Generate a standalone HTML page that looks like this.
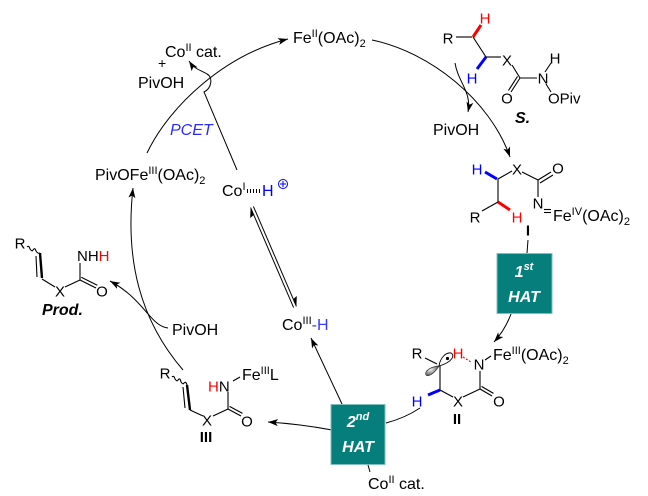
<!DOCTYPE html>
<html><head><meta charset="utf-8">
<style>
html,body{margin:0;padding:0;background:#fff;}
svg{display:block;}
text{font-family:"Liberation Sans",Arial,sans-serif;}
</style></head><body>
<svg width="648" height="496" viewBox="0 0 648 496" xmlns="http://www.w3.org/2000/svg">
<defs>
<marker id="ah" markerWidth="10" markerHeight="8" refX="10" refY="4" orient="auto" markerUnits="userSpaceOnUse">
<path d="M0,0.5 L10,4 L0,7.5 L2.5,4 z" fill="#000"/>
</marker>
<radialGradient id="lobe" cx="0.35" cy="0.35" r="0.75"><stop offset="0" stop-color="#f2f2f2"/><stop offset="1" stop-color="#4a4a4a"/></radialGradient>
</defs>

<!-- arrows -->
<g fill="none" stroke="#000" stroke-width="1">
<path d="M147,153 C170,105 225,55 288,39" marker-end="url(#ah)"/>
<path d="M372,40 C430,52 490,100 510,157" marker-end="url(#ah)"/>
<path d="M455,63 C458,82 472,92 468,112" marker-end="url(#ah)"/>
<line x1="528" y1="240" x2="527" y2="253"/>
<path d="M511,314 Q505,330 494,342" marker-end="url(#ah)"/>
<path d="M420,408 Q405,418 386,423"/>
<line x1="342" y1="404" x2="311" y2="338" marker-end="url(#ah)"/>
<path d="M332,430 Q300,424 268,422" marker-end="url(#ah)"/>
<line x1="368" y1="465" x2="370" y2="472"/>
<path d="M183,370 C140,320 125,260 133,188" marker-end="url(#ah)"/>
<path d="M168,328 C150,326 145,300 110,281" marker-end="url(#ah)"/>
<path d="M237,170 L204,92 C212,88 213,77 207,74 C201,70 195,70 189,61" marker-end="url(#ah)"/>
<!-- equilibrium -->
<line x1="250.6" y1="207.6" x2="293.6" y2="307.6"/>
<line x1="253.4" y1="206.4" x2="296.4" y2="306.4"/>
</g>
<polygon points="250.6,207.6 250.2,218 253.6,215" fill="#000"/>
<polygon points="296.4,306.4 296.8,296 293.4,299" fill="#000"/>

<!-- boxes -->
<rect x="497" y="253.5" width="55" height="60" fill="#067f7c" stroke="#7fbfbd" stroke-width="1"/>
<rect x="331" y="404.5" width="54" height="60" fill="#067f7c" stroke="#7fbfbd" stroke-width="1"/>
<g fill="#fff" font-weight="bold" font-style="italic" font-size="16" text-anchor="middle">
<text x="524" y="277">1<tspan dy="-7" font-size="11">st</tspan></text>
<text x="524" y="302">HAT</text>
<text x="358" y="427">2<tspan dy="-7" font-size="11">nd</tspan></text>
<text x="358" y="452">HAT</text>
</g>

<!-- labels -->
<g font-size="16" fill="#000">
<text x="293" y="43">Fe<tspan dy="-6" font-size="11">II</tspan><tspan dy="6">(OAc)</tspan><tspan dy="4" font-size="11">2</tspan></text>
<text x="165" y="57">Co<tspan dy="-6" font-size="11">II</tspan><tspan dy="6">&#160;cat.</tspan></text>
<text x="158" y="68" font-size="14">+</text>
<text x="138" y="88">PivOH</text>
<text x="170" y="135" font-style="italic" fill="#2b2bff">PCET</text>
<text x="95" y="180">PivOFe<tspan dy="-6" font-size="11">III</tspan><tspan dy="6">(OAc)</tspan><tspan dy="4" font-size="11">2</tspan></text>
<text x="222" y="196">Co<tspan dy="-6" font-size="11">I</tspan></text>
<text x="262" y="196" fill="#0000ff">H</text>
<text x="282" y="330">Co<tspan dy="-6" font-size="11">III</tspan><tspan dy="6" fill="#3a3aff">-H</tspan></text>
<text x="172" y="335">PivOH</text>
<text x="433" y="135">PivOH</text>
<text x="368" y="489">Co<tspan dy="-6" font-size="11">II</tspan><tspan dy="6">&#160;cat.</tspan></text>
<text x="515" y="123" font-weight="bold" font-style="italic">S.</text>
<text x="42" y="315" font-weight="bold" font-style="italic">Prod.</text>
<text x="553" y="221">Fe<tspan dy="-6" font-size="11">IV</tspan><tspan dy="6">(OAc)</tspan><tspan dy="4" font-size="11">2</tspan></text>
<text x="493" y="360">Fe<tspan dy="-6" font-size="11">III</tspan><tspan dy="6">(OAc)</tspan><tspan dy="4" font-size="11">2</tspan></text>
<text x="242" y="380">Fe<tspan dy="-6" font-size="11">III</tspan><tspan dy="6">L</tspan></text>
</g>
<line x1="247" y1="191" x2="261" y2="191" stroke="#000" stroke-width="4" stroke-dasharray="1 2"/>
<circle cx="283" cy="184" r="4.5" fill="none" stroke="#0000ff" stroke-width="1"/>
<line x1="280" y1="184" x2="286" y2="184" stroke="#0000ff" stroke-width="1"/>
<line x1="283" y1="181" x2="283" y2="187" stroke="#0000ff" stroke-width="1"/>

<!-- bonds -->
<g stroke="#000" stroke-width="1.1" fill="none">
<!-- S -->
<line x1="456" y1="37" x2="472" y2="37"/>
<line x1="473" y1="37" x2="486" y2="57"/>
<line x1="486" y1="57" x2="501" y2="57"/>
<line x1="512" y1="65" x2="520" y2="78"/>
<line x1="520" y1="78" x2="537" y2="78"/>
<line x1="545" y1="72" x2="551" y2="63"/>
<line x1="520" y1="78" x2="511" y2="92"/>
<line x1="517.5" y1="76.4" x2="508.5" y2="90.4"/>
<line x1="546" y1="84" x2="551" y2="92"/>
<!-- I -->
<line x1="498" y1="179" x2="512" y2="171"/>
<line x1="498" y1="179" x2="498" y2="202"/>
<line x1="498" y1="202" x2="482" y2="211"/>
<line x1="522" y1="172" x2="538" y2="180"/>
<line x1="538" y1="180" x2="551" y2="172"/>
<line x1="540" y1="183" x2="553" y2="175"/>
<line x1="538" y1="180" x2="538" y2="197"/>
<line x1="544" y1="209.5" x2="551" y2="209.5"/>
<line x1="544" y1="212.5" x2="551" y2="212.5"/>
<!-- II -->
<line x1="425" y1="358" x2="437" y2="364"/>
<line x1="440" y1="366" x2="440" y2="390"/>
<line x1="440" y1="390" x2="453" y2="397"/>
<line x1="463" y1="397" x2="480" y2="389"/>
<line x1="480" y1="389" x2="480" y2="371"/>
<line x1="480" y1="389" x2="492" y2="396"/>
<line x1="481.5" y1="386.4" x2="493.5" y2="393.4"/>
<line x1="485" y1="360" x2="491" y2="356"/>
<!-- III -->
<path d="M172,377 Q174,375 175,379 Q177,382 178,380 Q180,377 181,382 Q183,385 184,383 Q186,381 187,385"/>
<line x1="183" y1="387" x2="185" y2="408"/>
<line x1="190" y1="410" x2="203" y2="416"/>
<line x1="213" y1="416" x2="228" y2="409"/>
<line x1="228" y1="409" x2="241" y2="416"/>
<line x1="229.5" y1="406.4" x2="242.5" y2="413.4"/>
<line x1="228" y1="409" x2="228" y2="392"/>
<line x1="233" y1="381" x2="240" y2="377"/>
<!-- Prod -->
<path d="M27,247 Q29,245 30,249 Q32,252 33,250 Q35,247 36,251 Q38,254 40,253"/>
<line x1="36" y1="256" x2="37" y2="277"/>
<line x1="42" y1="279" x2="55" y2="287"/>
<line x1="65" y1="287" x2="80" y2="280"/>
<line x1="80" y1="280" x2="96" y2="288"/>
<line x1="81.3" y1="277.3" x2="97.3" y2="285.3"/>
<line x1="80" y1="280" x2="80" y2="263"/>
</g>
<g stroke-width="2.4" fill="none">
<line x1="187" y1="385" x2="190" y2="410" stroke="#000"/>
<line x1="40" y1="253" x2="42" y2="278" stroke="#000"/>
<line x1="473" y1="37" x2="481" y2="25" stroke="#ff0000" stroke-width="3"/>
<line x1="486" y1="57" x2="477" y2="69" stroke="#0000ff" stroke-width="3"/>
<line x1="485" y1="172" x2="497" y2="179" stroke="#0000ff" stroke-width="3"/>
<line x1="498" y1="202" x2="510" y2="210" stroke="#ff0000" stroke-width="3"/>
<line x1="440" y1="390" x2="428" y2="395" stroke="#0000ff" stroke-width="3"/>
</g>
<line x1="463" y1="357" x2="471" y2="362" stroke="#ff0000" stroke-width="1.1" stroke-dasharray="2 1.5"/>

<!-- orbital -->
<path d="M439,366 C436,366 428,368 426,372 C424,378 432,377 439,366 Z" fill="url(#lobe)" stroke="#333" stroke-width="0.7"/>
<path d="M439,366 C440,358 446,352 451,353 C455,355 453,362 439,366 Z" fill="#fff" stroke="#000" stroke-width="0.9"/>
<circle cx="447.5" cy="358.5" r="1.6" fill="#000"/>

<!-- atoms -->
<g font-size="15" text-anchor="middle" fill="#000">
<!-- S -->
<text x="448" y="43.5">R</text>
<text x="485" y="23.5" fill="#ff0000">H</text>
<text x="472" y="83.5" fill="#0000ff">H</text>
<text x="507" y="65.5">X</text>
<text x="543" y="83.5">N</text>
<text x="555" y="63.5">H</text>
<text x="507" y="103.5">O</text>
<text x="548" y="103.5" text-anchor="start">OPiv</text>
<!-- I -->
<text x="477" y="174.5" fill="#0000ff">H</text>
<text x="517" y="174.5">X</text>
<text x="475" y="222.5">R</text>
<text x="517" y="222.5" fill="#ff0000">H</text>
<text x="558" y="173.5">O</text>
<text x="538" y="208.5">N</text>
<text x="528" y="235.5" font-weight="bold">I</text>
<!-- II -->
<text x="417" y="358.5">R</text>
<text x="458" y="358.5" fill="#ff0000">H</text>
<text x="479" y="369.5">N</text>
<text x="417" y="406.5" fill="#0000ff">H</text>
<text x="458" y="406.5">X</text>
<text x="499" y="406.5">O</text>
<text x="457" y="424" font-weight="bold">II</text>
<!-- III -->
<text x="165" y="378.5">R</text>
<text x="207" y="425.5">X</text>
<text x="247" y="426.5">O</text>
<text x="208" y="391.5" text-anchor="start"><tspan fill="#ff0000">H</tspan>N</text>
<text x="206" y="442" font-weight="bold">III</text>
<!-- Prod -->
<text x="20" y="248.5">R</text>
<text x="60" y="296.5">X</text>
<text x="102" y="296.5">O</text>
<text x="77" y="261" text-anchor="start">NH<tspan fill="#ff0000">H</tspan></text>
</g>
</svg>
</body></html>
